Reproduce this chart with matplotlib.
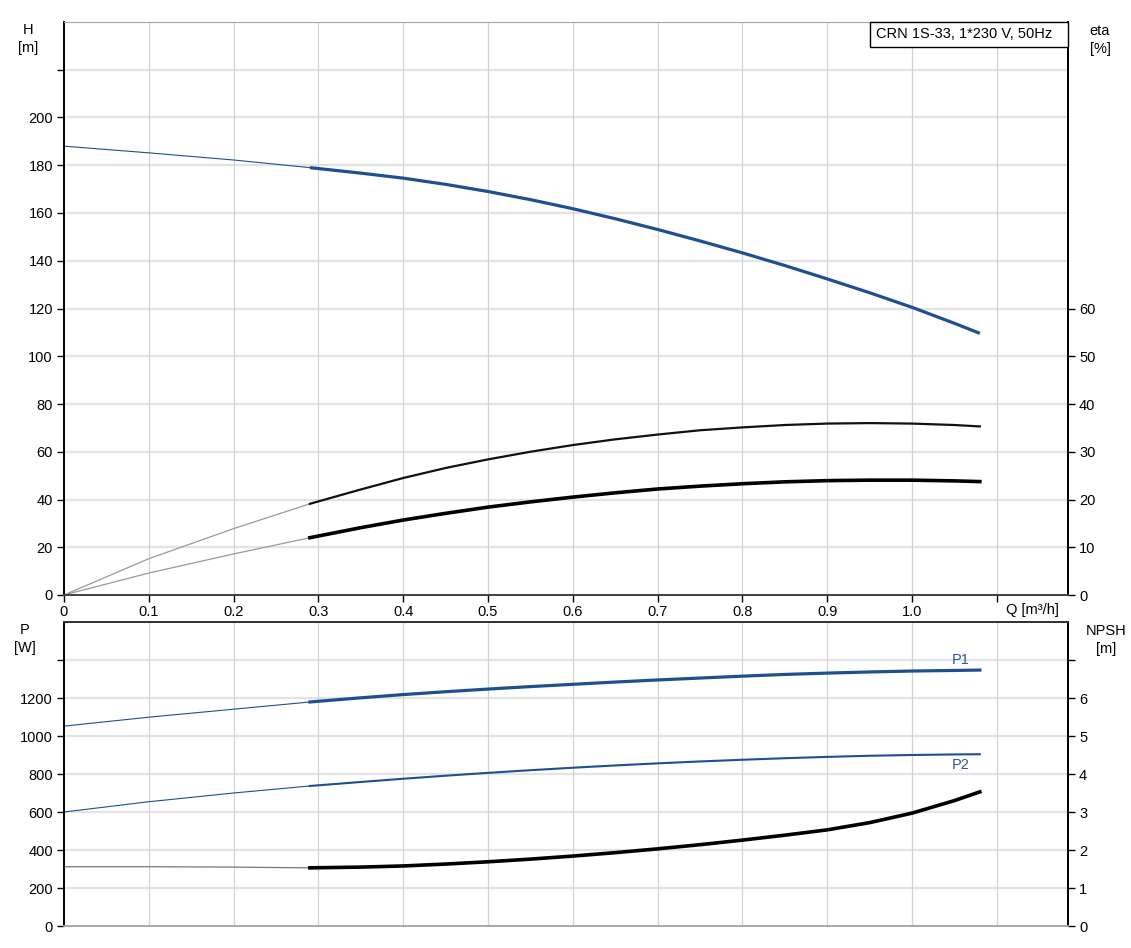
import matplotlib.pyplot as plt
from matplotlib.patches import Rectangle

plt.rcParams['font.family'] = ['Liberation Sans', 'DejaVu Sans']
plt.rcParams['font.size'] = 10.5

# Duty range data (thick curves)
q = [0.29, 0.35, 0.4, 0.45, 0.5, 0.55, 0.6, 0.65, 0.7, 0.75, 0.8, 0.85, 0.9, 0.95, 1.0, 1.05, 1.08]
head = [179.0, 176.7, 174.6, 172.0, 169.0, 165.6, 161.8, 157.6, 153.1, 148.3, 143.3, 138.0, 132.4, 126.6, 120.5, 113.8, 109.6]
eta_pump = [19.1, 22.1, 24.5, 26.6, 28.4, 30.0, 31.4, 32.6, 33.6, 34.5, 35.1, 35.6, 35.9, 36.0, 35.9, 35.6, 35.3]
eta_total = [12.0, 14.1, 15.7, 17.1, 18.4, 19.5, 20.5, 21.4, 22.2, 22.8, 23.3, 23.7, 23.95, 24.05, 24.05, 23.9, 23.75]
p1 = [1179, 1201, 1218, 1233, 1247, 1260, 1272, 1284, 1295, 1305, 1315, 1324, 1331, 1337, 1342, 1345, 1347]
p2 = [737, 758, 775, 791, 806, 820, 833, 845, 856, 866, 875, 883, 890, 896, 900, 903, 904]
npsh = [1.53, 1.55, 1.58, 1.63, 1.69, 1.76, 1.84, 1.93, 2.03, 2.14, 2.26, 2.39, 2.53, 2.72, 2.97, 3.30, 3.53]

# Extension to zero flow (thin curves)
q_low = [0, 0.1, 0.2, 0.29]
head_low = [188, 185.2, 182.2, 179]
eta_pump_low = [0, 7.6, 13.9, 19.1]
eta_total_low = [0, 4.6, 8.6, 12.0]
p1_low = [1052, 1099, 1141, 1179]
p2_low = [600, 654, 700, 737]
npsh_low = [1.56, 1.56, 1.55, 1.53]

title = 'CRN 1S-33, 1*230 V, 50Hz'

blue = '#1d4f91'
grid_h = '#e3e3e3'
grid_v = '#d2d2d2'

W, H = 1131, 948
fig = plt.figure(figsize=(W/100, H/100), dpi=100)
ax1 = fig.add_axes([64/W, 1-595/H, (1068-64)/W, (595-22)/H])
ax2 = fig.add_axes([64/W, 1-926/H, (1068-64)/W, (926-622)/H])

xmax = (1068 - 64) / 848.0

# ---- top chart: H and eta
ax1.set_xlim(0, xmax)
ax1.set_ylim(0, 240)
ax1.set_xticks([i/10 for i in range(12)])
ax1.set_xticklabels(['0'] + ['%.1f' % (i/10) for i in range(1, 11)] + [''])
ax1.set_yticks(range(0, 221, 20))
ax1.set_yticklabels([str(v) if v <= 200 else '' for v in range(0, 221, 20)])
for v in range(20, 221, 20):
    ax1.axhline(v, color=grid_h, lw=1.6, zorder=0)
for i in range(1, 12):
    ax1.axvline(i/10, color=grid_v, lw=0.9, zorder=0)

ax1.plot(q_low, head_low, color=blue, lw=0.8)
ax1.plot(q, head, color=blue, lw=2.3, solid_capstyle='butt')

ax1e = ax1.twinx()
ax1e.set_ylim(0, 120)
ax1e.set_yticks(range(0, 61, 10))
ax1e.plot(q_low, eta_pump_low, color='#999999', lw=0.9)
ax1e.plot(q, eta_pump, color='#111111', lw=1.6)
ax1e.plot(q_low, eta_total_low, color='#999999', lw=0.9)
ax1e.plot(q, eta_total, color='black', lw=2.6)

for a in (ax1, ax1e):
    a.spines['top'].set_color('#aaaaaa')
    a.spines['left'].set_color('black')
    a.spines['right'].set_color('black')
    a.spines['bottom'].set_color('#444444')
    a.spines['left'].set_linewidth(1.3)
    a.spines['right'].set_linewidth(1.3)
    a.spines['bottom'].set_linewidth(1.3)
    a.tick_params(length=5, width=1, colors='black', labelsize=10.5, pad=3)
ax1.tick_params(axis='x', pad=2)

# title box in the top right corner
fig.patches.append(Rectangle((870/W, 1-47/H), (1068-870)/W, 25/H, transform=fig.transFigure,
                             fc='white', ec='black', lw=1.0, zorder=5))
fig.text(876/W, 1-34.5/H, title, ha='left', va='center', fontsize=10.5, zorder=6)

fig.text(28/W, 1-39/H, 'H\n[m]', ha='center', va='center', fontsize=10.5, linespacing=1.35)
fig.text(1100/W, 1-40/H, 'eta\n[%]', ha='center', va='center', fontsize=10.5, linespacing=1.35)
fig.text(1032/W, 1-610/H, 'Q [m³/h]', ha='center', va='center', fontsize=10.5)

# ---- bottom chart: P and NPSH
ax2.set_xlim(0, xmax)
ax2.set_ylim(0, 1600)
ax2.set_xticks([])
ax2.set_yticks(range(0, 1401, 200))
ax2.set_yticklabels([str(v) if v <= 1200 else '' for v in range(0, 1401, 200)])
for v in range(200, 1401, 200):
    ax2.axhline(v, color=grid_h, lw=1.6, zorder=0)
for i in range(1, 12):
    ax2.axvline(i/10, color=grid_v, lw=0.9, zorder=0)

ax2.plot(q_low, p1_low, color=blue, lw=0.8)
ax2.plot(q, p1, color=blue, lw=2.3)
ax2.plot(q_low, p2_low, color=blue, lw=0.8)
ax2.plot(q, p2, color=blue, lw=1.5)
ax2.text(q[-1] - 0.012, p1[-1] + 18, 'P1', color='#2f5597', ha='right', va='bottom', fontsize=10.5)
ax2.text(q[-1] - 0.012, p2[-1] - 22, 'P2', color='#2f5597', ha='right', va='top', fontsize=10.5)

ax2n = ax2.twinx()
ax2n.set_ylim(0, 8)
ax2n.set_yticks(range(0, 8))
ax2n.set_yticklabels([str(v) if v <= 6 else '' for v in range(0, 8)])
ax2n.plot(q_low, npsh_low, color='#777777', lw=0.9)
ax2n.plot(q, npsh, color='black', lw=2.6)

for a in (ax2, ax2n):
    a.spines['top'].set_color('#333333')
    a.spines['top'].set_linewidth(1.3)
    a.spines['bottom'].set_color('#aaaaaa')
    a.spines['bottom'].set_linewidth(1.3)
    a.spines['left'].set_color('black')
    a.spines['right'].set_color('black')
    a.spines['left'].set_linewidth(1.3)
    a.spines['right'].set_linewidth(1.3)
    a.tick_params(length=5, width=1, colors='black', labelsize=10.5, pad=3)

fig.text(25/W, 1-639/H, 'P\n[W]', ha='center', va='center', fontsize=10.5, linespacing=1.35)
fig.text(1106/W, 1-640/H, 'NPSH\n[m]', ha='center', va='center', fontsize=10.5, linespacing=1.35)

fig.savefig('out.png', dpi=100)
